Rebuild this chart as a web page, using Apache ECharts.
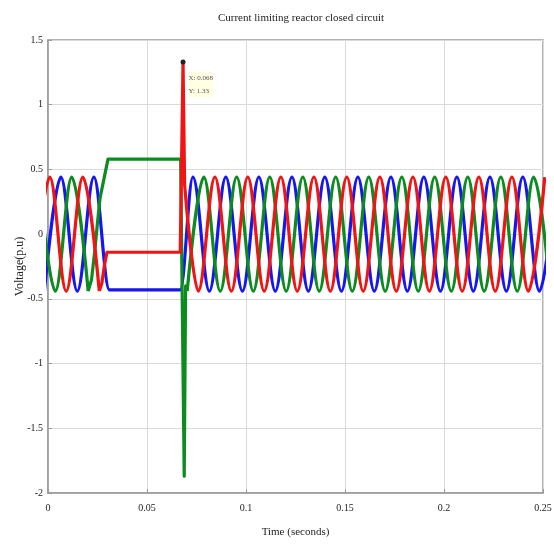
<!DOCTYPE html>
<html>
<head>
<meta charset="utf-8">
<script src="https://cdn.jsdelivr.net/npm/echarts@6/dist/echarts.min.js"></script>
<style>
  html, body { margin: 0; padding: 0; background: #fff; }
  #main { width: 554px; height: 545px; }
</style>
</head>
<body>
<div id="main"></div>
<script>
// tick labels
var xTicks = [0, 0.05, 0.1, 0.15, 0.2, 0.25];
var yTicks = [-2, -1.5, -1, -0.5, 0, 0.5, 1, 1.5];

// steady-state extrema, null = gap over the fault
var redWaveT = [-0.0074, 0.0009, 0.0092, 0.0176, 0.0259, null,
  0.0690, 0.0759, 0.0843, 0.0926, 0.1009, 0.1092, 0.1176, 0.1259, 0.1343, 0.1426, 0.1509,
  0.1592, 0.1676, 0.1759, 0.1843, 0.1926, 0.2009, 0.2092, 0.2176, 0.2259, 0.2343, 0.2426, 0.2509];
var redWaveV = [-0.44, 0.44, -0.44, 0.44, -0.44, null,
  0.38, -0.44, 0.44, -0.44, 0.44, -0.44, 0.44, -0.44, 0.44, -0.44, 0.44,
  -0.44, 0.44, -0.44, 0.44, -0.44, 0.44, -0.44, 0.44, -0.44, 0.44, -0.44, 0.44];

var greenWaveT = [-0.0047, 0.0037, 0.0120, 0.0203, null,
  0.0703, 0.0787, 0.0870, 0.0953, 0.1037, 0.1120, 0.1203, 0.1287, 0.1370, 0.1453, 0.1537,
  0.1620, 0.1703, 0.1787, 0.1870, 0.1953, 0.2037, 0.2120, 0.2203, 0.2287, 0.2370, 0.2453, 0.2537];
var greenWaveV = [0.44, -0.44, 0.44, -0.44, null,
  -0.44, 0.44, -0.44, 0.44, -0.44, 0.44, -0.44, 0.44, -0.44, 0.44, -0.44,
  0.44, -0.44, 0.44, -0.44, 0.44, -0.44, 0.44, -0.44, 0.44, -0.44, 0.44, -0.44];

var blueWaveT = [-0.0018, 0.0065, 0.0148, 0.0232, 0.0310, 0.0668,
  0.0732, 0.0815, 0.0898, 0.0982, 0.1065, 0.1148, 0.1232, 0.1315, 0.1398, 0.1482, 0.1565,
  0.1648, 0.1732, 0.1815, 0.1898, 0.1982, 0.2065, 0.2148, 0.2232, 0.2315, 0.2398, 0.2482, 0.2565];
var blueWaveV = [-0.44, 0.44, -0.44, 0.44, -0.43, -0.43,
  0.44, -0.44, 0.44, -0.44, 0.44, -0.44, 0.44, -0.44, 0.44, -0.44, 0.44,
  -0.44, 0.44, -0.44, 0.44, -0.44, 0.44, -0.44, 0.44, -0.44, 0.44, -0.44, 0.44];

// fault / breaker closing transient
var redFaultT = [0.0259, 0.0272, 0.0285, 0.0298, 0.0668, 0.0682, 0.0690];
var redFaultV = [-0.44, -0.38, -0.24, -0.14, -0.14, 1.33, 0.38];
var greenFaultT = [0.0203, 0.0220, 0.0237, 0.0250, 0.0263, 0.0303, 0.0670, 0.0688, 0.0695, 0.0703];
var greenFaultV = [-0.44, -0.35, -0.12, 0.09, 0.28, 0.58, 0.58, -1.87, -0.40, -0.44];

var cursorT = 0.0682, cursorV = 1.33;

function pairs(ts, vs) {
  var out = [];
  for (var i = 0; i < ts.length; i++) {
    if (ts[i] === null) out.push(['-', '-']);
    else out.push([ts[i], vs[i]]);
  }
  return out;
}

var RED = '#f01414', GREEN = '#0c8c1e', BLUE = '#1616ee';
var font = 'Liberation Serif';

function wave(data, color) {
  return {
    type: 'line', data: data, showSymbol: false, symbol: 'none',
    smooth: 0.36, smoothMonotone: 'x', clip: true,
    lineStyle: { color: color, width: 3.2, join: 'round' }
  };
}
function fault(data, color) {
  return {
    type: 'line', data: data, showSymbol: false, symbol: 'none', clip: true,
    lineStyle: { color: color, width: 3.2, join: 'round' }
  };
}

var chart = echarts.init(document.getElementById('main'));
var redFault = fault(pairs(redFaultT, redFaultV), RED);
redFault.markPoint = {
  symbol: 'circle', symbolSize: 5,
  itemStyle: { color: '#222' },
  label: {
    show: true, position: [8, 12], color: '#555', fontSize: 7, lineHeight: 13,
    fontFamily: font, backgroundColor: 'rgba(255,255,215,0.7)',
    formatter: 'X: 0.068\nY: 1.33'
  },
  data: [{ coord: [cursorT, cursorV] }]
};

var option = {
  animation: false,
  backgroundColor: '#fff',
  title: {
    text: 'Current limiting reactor closed circuit',
    left: 296, top: 8, textAlign: 'center',
    textStyle: { fontFamily: font, fontSize: 11, fontWeight: 'normal', color: '#222' }
  },
  grid: {
    left: 48, right: 11, top: 40, bottom: 52, containLabel: false, outerBoundsMode: 'none',
    show: true, borderColor: '#9a9a9a', borderWidth: 1.5
  },
  xAxis: {
    type: 'value', min: xTicks[0], max: xTicks[xTicks.length - 1], interval: 0.05,
    name: 'Time (seconds)', nameLocation: 'middle', nameGap: 34, nameMoveOverlap: false,
    nameTextStyle: { fontFamily: font, fontSize: 11, color: '#222' },
    axisLine: { show: true, onZero: false, lineStyle: { color: '#9a9a9a', width: 1.5 } },
    axisTick: { show: true, inside: true, length: 4, lineStyle: { color: '#9a9a9a' } },
    axisLabel: {
      fontFamily: font, fontSize: 10, color: '#222', margin: 10,
      formatter: function (v) { return String(+v.toFixed(2)); }
    },
    splitLine: { show: true, lineStyle: { color: '#dadada', width: 1 } }
  },
  yAxis: {
    type: 'value', min: yTicks[0], max: yTicks[yTicks.length - 1], interval: 0.5,
    name: 'Voltage(p.u)', nameLocation: 'middle', nameGap: 22, nameRotate: 90, nameMoveOverlap: false,
    nameTextStyle: { fontFamily: font, fontSize: 12, color: '#222' },
    axisLine: { show: true, onZero: false, lineStyle: { color: '#9a9a9a', width: 1.5 } },
    axisTick: { show: true, inside: true, length: 4, lineStyle: { color: '#9a9a9a' } },
    axisLabel: { fontFamily: font, fontSize: 10, color: '#222', margin: 5 },
    splitLine: { show: true, lineStyle: { color: '#dadada', width: 1 } }
  },
  series: [
    wave(pairs(blueWaveT, blueWaveV), BLUE),
    wave(pairs(greenWaveT, greenWaveV), GREEN),
    fault(pairs(greenFaultT, greenFaultV), GREEN),
    wave(pairs(redWaveT, redWaveV), RED),
    redFault
  ]
};
chart.setOption(option);
</script>
</body>
</html>
